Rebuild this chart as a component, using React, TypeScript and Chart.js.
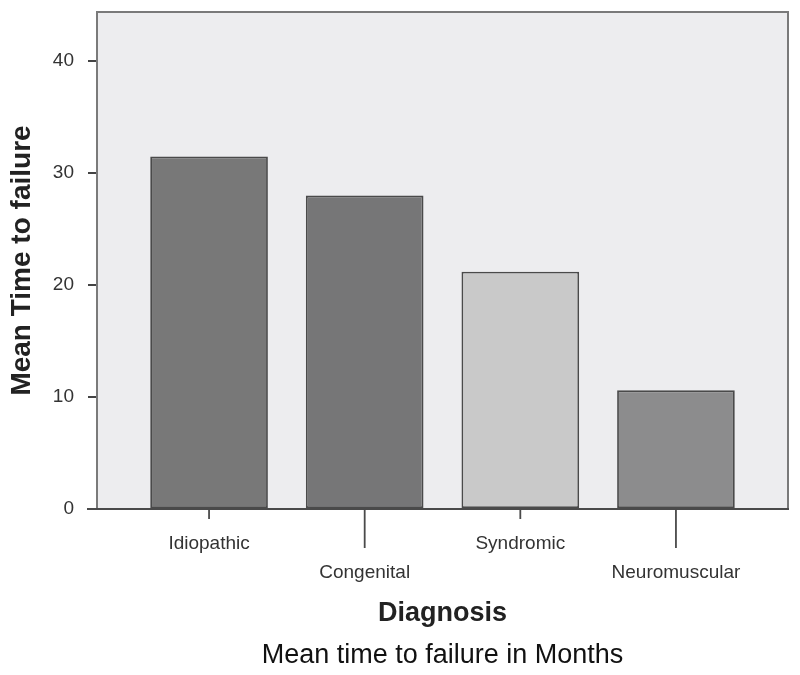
import React, { useEffect, useRef } from "react";
import { Chart, registerables } from "chart.js";

Chart.register(...registerables);

const categories = ["Idiopathic", "Congenital", "Syndromic", "Neuromuscular"];
const meanMonths = [31.5, 28.0, 21.2, 10.6];
const barColors = ["#787878", "#767677", "#c9c9c9", "#8c8c8d"];
const yTickValues = [0, 10, 20, 30, 40];
const yTitle = "Mean Time to failure";
const xTitle = "Diagnosis";
const caption = "Mean time to failure in Months";

const FONT = "'Liberation Sans', Arial, Helvetica, sans-serif";

const framePlugin = {
  id: "frame",
  beforeDatasetsDraw(chart: any) {
    const { ctx, chartArea: a } = chart;
    ctx.save();
    ctx.fillStyle = "#ededef";
    ctx.fillRect(a.left, a.top, a.right - a.left, a.bottom - a.top);
    ctx.restore();
  },
  afterDatasetsDraw(chart: any) {
    const { ctx, chartArea: a } = chart;
    ctx.save();
    ctx.strokeStyle = "#7a7a7a";
    ctx.lineWidth = 2;
    ctx.beginPath();
    ctx.moveTo(a.left, a.bottom);
    ctx.lineTo(a.left, a.top);
    ctx.lineTo(a.right, a.top);
    ctx.lineTo(a.right, a.bottom);
    ctx.stroke();
    ctx.strokeStyle = "#4a4a4a";
    ctx.beginPath();
    ctx.moveTo(a.left - 10, a.bottom);
    ctx.lineTo(a.right + 1, a.bottom);
    ctx.stroke();
    // x tick marks, staggered
    const xs = chart.scales.x;
    ctx.strokeStyle = "#4a4a4a";
    ctx.lineWidth = 1.8;
    categories.forEach((_, i) => {
      const px = xs.getPixelForValue(i);
      ctx.beginPath();
      ctx.moveTo(px, a.bottom);
      ctx.lineTo(px, a.bottom + (i % 2 ? 39 : 10));
      ctx.stroke();
    });
    ctx.restore();
  },
};

export default function App() {
  const ref = useRef<HTMLCanvasElement>(null);
  useEffect(() => {
    if (!ref.current) return;
    Chart.defaults.font.family = FONT;
    const chart = new Chart(ref.current, {
      type: "bar",
      data: {
        datasets: [
          {
            data: categories.map((_, i) => ({ x: i, y: meanMonths[i] })) as any,
            backgroundColor: barColors,
            borderColor: "#4a4a4a",
            borderWidth: 1.8,
            borderSkipped: false,
            barPercentage: 0.756,
            categoryPercentage: 1,
          },
        ],
      },
      options: {
        responsive: false,
        animation: false,
        layout: { padding: { left: 0, right: 12, top: 12, bottom: 0 } },
        plugins: {
          legend: { display: false },
          tooltip: { enabled: false },
          title: { display: false },
        },
        scales: {
          x: {
            type: "linear",
            position: "bottom",
            min: -0.72,
            max: 3.72,
            offset: false,
            afterFit: (s: any) => {
              s.height = 126;
              s.paddingLeft = 0;
              s.paddingRight = 0;
            },
            afterBuildTicks: (s: any) => {
              s.ticks = categories.map((_, i) => ({ value: i }));
            },
            grid: { display: false, drawTicks: true, tickLength: 10 },
            border: { display: false },
            ticks: {
              autoSkip: false,
              maxRotation: 0,
              padding: 10,
              color: "#333",
              font: { size: 19, lineHeight: 1.55 },
              callback: (v: any) => {
                const i = Math.round(Number(v));
                const label = categories[i] ?? "";
                return i % 2 ? ["", label] : [label];
              },
            },
            title: {
              display: true,
              text: xTitle,
              color: "#222",
              font: { size: 27, weight: "bold" },
              padding: { top: 0, bottom: 5 },
            },
          },
          caption: {
            type: "linear",
            position: "bottom",
            display: true,
            afterFit: (s: any) => {
              s.height = 40;
              s.paddingLeft = 0;
              s.paddingRight = 0;
            },
            grid: { display: false, drawTicks: false },
            border: { display: false },
            ticks: { display: false },
            title: {
              display: true,
              text: caption,
              color: "#111",
              font: { size: 27, weight: "normal" },
              padding: { top: 0, bottom: 3 },
            },
          },
          y: {
            min: 0,
            max: 44.4,
            afterFit: (s: any) => {
              s.width = 97;
              s.paddingTop = 0;
              s.paddingBottom = 0;
            },
            afterBuildTicks: (s: any) => {
              s.ticks = yTickValues.map((v) => ({ value: v }));
            },
            grid: {
              display: true,
              drawOnChartArea: false,
              drawTicks: true,
              tickLength: 9,
              color: "#444",
              lineWidth: 2,
            },
            border: { display: false },
            ticks: {
              padding: 14,
              color: "#333",
              font: { size: 19 },
            },
            title: {
              display: true,
              text: yTitle,
              color: "#222",
              font: { size: 28, weight: "bold" },
              padding: { top: 5, bottom: 0 },
            },
          },
        },
      } as any,
      plugins: [framePlugin],
    });
    return () => chart.destroy();
  }, []);
  return (
    <div style={{ position: "absolute", left: 0, top: 0, width: 800, height: 675, background: "#fff" }}>
      <canvas ref={ref} width={800} height={675} />
    </div>
  );
}
